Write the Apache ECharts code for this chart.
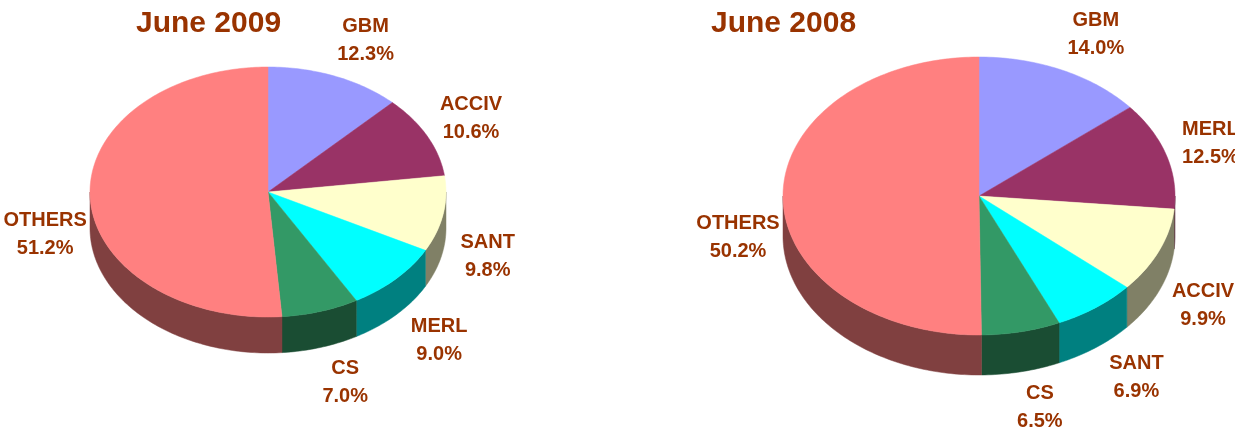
<!DOCTYPE html>
<html>
<head>
<meta charset="utf-8">
<script src="https://cdn.jsdelivr.net/npm/echarts@6/dist/echarts.min.js"></script>
<style>
  html, body { margin: 0; padding: 0; background: #fff; }
  #chart { width: 1235px; height: 429px; }
</style>
</head>
<body>
<div id="chart"></div>
<script>
// data, clockwise from 12 o'clock
const names2009 = ['GBM', 'ACCIV', 'SANT', 'MERL', 'CS', 'OTHERS']
const values2009 = [12.3, 10.6, 9.8, 9.0, 7.0, 51.2]
const names2008 = ['GBM', 'MERL', 'ACCIV', 'SANT', 'CS', 'OTHERS']
const values2008 = [14.0, 12.5, 9.9, 6.9, 6.5, 50.2]
const titles = ['June 2009', 'June 2008']

// colours go by slice position, not by company
const SLICE_COLORS = ['#9999FF', '#993366', '#FFFFCC', '#00FFFF', '#339966', '#FF8080']
const TEXT_COLOR = '#993300'
const FONT = '"Liberation Sans", Arial, sans-serif'

function darker(hex) {
  const n = parseInt(hex.slice(1), 16)
  const r = (n >> 16) & 255, g = (n >> 8) & 255, b = n & 255
  return 'rgb(' + Math.round(r / 2) + ',' + Math.round(g / 2) + ',' + Math.round(b / 2) + ')'
}

// tilted pie drawn as a custom series: angle -> point on ellipse
function pie3d(names, values, geo) {
  const total = values.reduce((a, b) => a + b, 0)
  let acc = 0
  const data = values.map((v, i) => {
    const a0 = acc / total * 360
    acc += v
    return [a0, acc / total * 360, v, i]
  })
  const pt = (deg, dy) => {
    const r = deg * Math.PI / 180
    return [geo.cx + geo.rx * Math.sin(r), geo.cy - geo.ry * Math.cos(r) + dy]
  }
  const arc = (a0, a1, dy) => {
    const pts = []
    const steps = Math.max(2, Math.ceil(a1 - a0))
    for (let k = 0; k <= steps; k++) pts.push(pt(a0 + (a1 - a0) * k / steps, dy))
    return pts
  }
  return {
    type: 'custom',
    coordinateSystem: 'none',
    silent: true,
    data,
    renderItem(params, api) {
      const a0 = api.value(0), a1 = api.value(1), v = api.value(2), i = api.value(3)
      const color = SLICE_COLORS[i % SLICE_COLORS.length]
      const children = []
      // front wall (only the half facing the viewer)
      const s0 = Math.max(a0, 90), s1 = Math.min(a1, 270)
      if (s1 > s0) {
        const wall = arc(s0, s1, 0).concat(arc(s0, s1, geo.depth).reverse())
        children.push({ type: 'polygon', shape: { points: wall },
          style: { fill: darker(color), stroke: darker(color), lineWidth: 0.5 } })
      }
      // top face
      children.push({ type: 'polygon', shape: { points: [[geo.cx, geo.cy]].concat(arc(a0, a1, 0)) },
        style: { fill: color, stroke: color, lineWidth: 0.5 } })
      // label outside the rim, pushed further sideways near top / bottom
      const mid = (a0 + a1) / 2 * Math.PI / 180
      const c = Math.cos(mid)
      const lx = geo.cx + (geo.rx + 45 + 45 * Math.pow(Math.abs(c), 3)) * Math.sin(mid)
      const ly = c >= 0
        ? geo.cy - (geo.ry + 39) * c
        : geo.cy - (geo.ry + 37) * c + geo.depth
      children.push({ type: 'text', x: lx, y: ly, z2: 10,
        style: { text: names[i] + '\n' + v.toFixed(1) + '%', fill: TEXT_COLOR,
          font: 'bold 20px ' + FONT, lineHeight: 28, align: 'center', verticalAlign: 'middle' } })
      return { type: 'group', children }
    }
  }
}

const chart = echarts.init(document.getElementById('chart'), null, { renderer: 'canvas' })
chart.setOption({
  animation: false,
  title: [
    { text: titles[0], left: 131, top: 4, textStyle: { color: TEXT_COLOR, fontSize: 30, fontWeight: 'bold', fontFamily: FONT } },
    { text: titles[1], left: 706, top: 4, textStyle: { color: TEXT_COLOR, fontSize: 30, fontWeight: 'bold', fontFamily: FONT } }
  ],
  series: [
    pie3d(names2009, values2009, { cx: 268, cy: 192, rx: 178, ry: 125, depth: 36 }),
    pie3d(names2008, values2008, { cx: 979, cy: 196, rx: 196, ry: 139, depth: 40 })
  ]
})
</script>
</body>
</html>
